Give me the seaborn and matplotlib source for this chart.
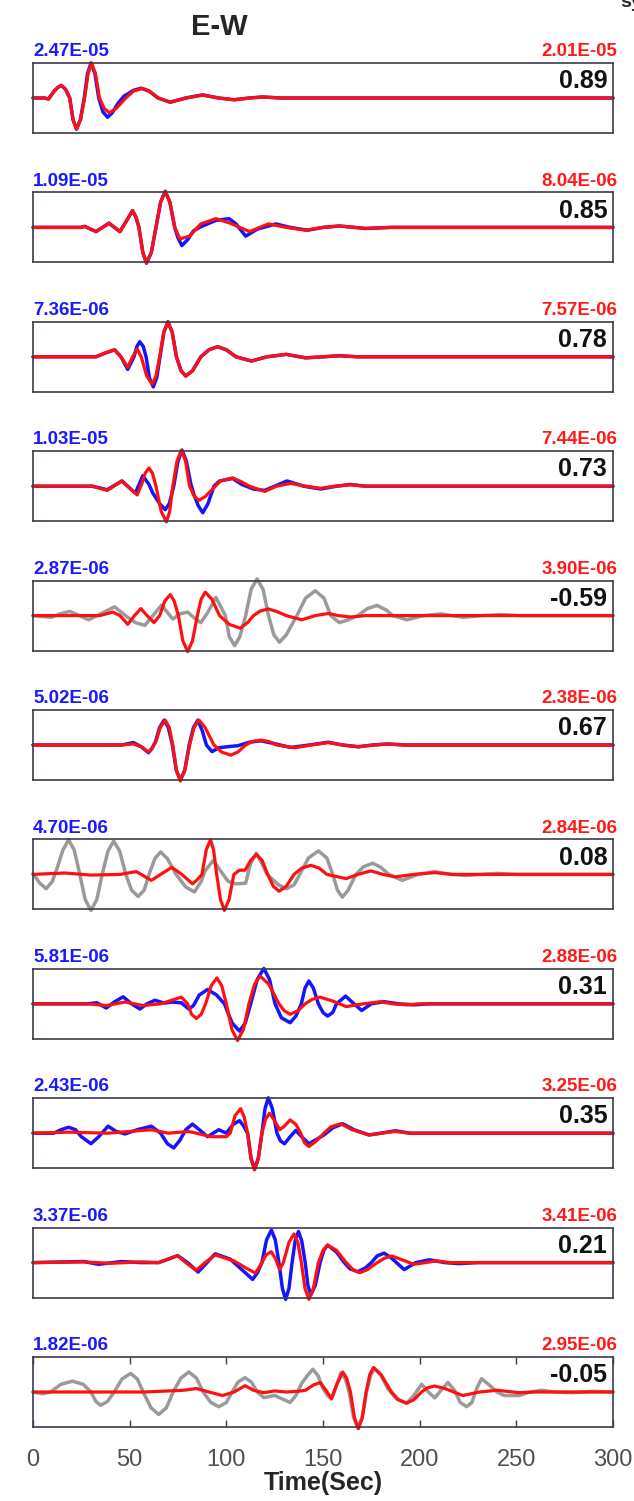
import numpy as np
import pandas as pd
import matplotlib
matplotlib.use("Agg")
import matplotlib.pyplot as plt
import seaborn as sns

# amplitude labels, correlation values, which panels show the observed trace in grey
obs_amp = ["2.47E-05", "1.09E-05", "7.36E-06", "1.03E-05", "2.87E-06", "5.02E-06",
           "4.70E-06", "5.81E-06", "2.43E-06", "3.37E-06", "1.82E-06"]
syn_amp = ["2.01E-05", "8.04E-06", "7.57E-06", "7.44E-06", "3.90E-06", "2.38E-06",
           "2.84E-06", "2.88E-06", "3.25E-06", "3.41E-06", "2.95E-06"]
corr = ["0.89", "0.85", "0.78", "0.73", "-0.59", "0.67", "0.08", "0.31", "0.35", "0.21", "-0.05"]
grey_obs = [False, False, False, False, True, False, True, False, False, False, True]
xticks = [0, 50, 100, 150, 200, 250, 300]

# waveforms: (time s, normalised amplitude)
p1_obs = [(0, 0), (6, 0), (8, -0.03), (11, 0.2), (12.8, 0.3), (14.6, 0.36), (16.8, 0.25), (19, 0),
          (20.7, -0.62), (22.5, -0.89), (24.5, -0.62), (26.5, 0), (28.2, 0.7), (30, 1.0), (32, 0.7),
          (34, 0), (36.2, -0.4), (38.6, -0.55), (41, -0.42), (44, -0.15), (47, 0.05), (52, 0.22),
          (56, 0.28), (60, 0.2), (64.7, 0), (71, -0.12), (79, 0), (87.7, 0.09), (96, 0), (104, -0.05),
          (112, 0), (119, 0.03), (128, 0), (300, 0)]
p1_syn = [(0, 0), (6, 0), (8, -0.03), (11, 0.2), (12.8, 0.3), (14.6, 0.36), (16.8, 0.26), (19, 0),
          (20.7, -0.62), (22.5, -0.89), (24.6, -0.62), (26.7, 0), (28.5, 0.7), (30.3, 1.0), (32.3, 0.7),
          (34.4, 0), (36.8, -0.3), (39.5, -0.42), (43, -0.3), (48, 0), (52, 0.2), (56.4, 0.27),
          (60, 0.2), (64.7, 0), (71, -0.12), (79, 0), (87.7, 0.08), (96, 0), (104, -0.05), (112, 0),
          (119, 0.03), (128, 0), (300, 0)]

p2_obs = [(0, 0), (24.8, 0), (26.7, 0.03), (32.6, -0.12), (39.3, 0.12), (45, -0.12), (48.5, 0.2),
          (51.5, 0.48), (53.2, 0.3), (54.8, 0), (56.8, -0.72), (58.7, -1.02), (61.2, -0.72), (63.6, 0),
          (66, 0.72), (68.4, 1.03), (70.8, 0.72), (73.3, 0), (75, -0.3), (77, -0.52), (80, -0.35),
          (83, -0.1), (86.8, 0.02), (94.6, 0.2), (101.4, 0.25), (105, 0.1), (110, -0.25), (116, -0.05),
          (125.6, 0.1), (133, 0), (142, -0.08), (150, 0), (158.5, 0.04), (172, -0.03), (185, 0), (300, 0)]
p2_syn = [(0, 0), (24.8, 0), (26.7, 0.03), (32.6, -0.12), (39.3, 0.12), (45, -0.12), (48.5, 0.2),
          (51.5, 0.48), (53.2, 0.3), (54.8, 0), (56.8, -0.72), (58.7, -1.02), (61.2, -0.72), (63.6, 0),
          (66, 0.72), (68.4, 1.03), (70.8, 0.72), (73.3, 0), (76, -0.33), (81, -0.25), (86.8, 0.1),
          (94.6, 0.25), (102, 0.12), (112, -0.12), (121.7, 0.1), (131, 0), (141, -0.08), (150, 0),
          (158.5, 0.04), (172, -0.03), (185, 0), (300, 0)]

p3_obs = [(0, 0), (32.6, 0), (37, 0.1), (42.2, 0.2), (45.5, 0), (49, -0.36), (52.2, 0), (53.8, 0.3),
          (55.2, 0.43), (57, 0.3), (58.5, 0), (60.2, -0.6), (62.2, -0.86), (64, -0.6), (65.7, 0),
          (67.7, 0.7), (69.8, 1.0), (72, 0.7), (74.2, 0), (76.6, -0.4), (79, -0.55), (82.5, -0.4),
          (86.8, 0), (91, 0.2), (95.5, 0.29), (100, 0.2), (105, 0), (113, -0.12), (121, 0), (131, 0.07),
          (141, -0.03), (150, 0), (158.5, 0.03), (168, 0), (300, 0)]
p3_syn = [(0, 0), (32.6, 0), (37, 0.1), (42.2, 0.2), (45.5, 0), (49, -0.3), (51.5, 0), (53.9, 0.22),
          (56, 0), (58.8, -0.55), (61.6, -0.78), (63.6, -0.55), (65.5, 0), (67.6, 0.7), (69.8, 1.0),
          (72, 0.7), (74.2, 0), (76.6, -0.4), (79, -0.55), (82.5, -0.4), (86.8, 0), (91, 0.2),
          (95.5, 0.29), (100, 0.2), (105, 0), (113, -0.12), (121, 0), (131, 0.07), (141, -0.03),
          (150, 0), (158.5, 0.03), (168, 0), (300, 0)]

p4_obs = [(0, 0), (30.6, 0), (38.4, -0.1), (46, 0.15), (52.9, -0.2), (56.8, 0.3), (60, 0.05),
          (62, -0.2), (65.5, -0.5), (68.4, -0.67), (70.5, -0.5), (72.8, 0), (75, 0.72), (77.1, 1.03),
          (79.3, 0.72), (81.5, 0.1), (83, -0.2), (85.5, -0.56), (87.8, -0.76), (90.5, -0.5), (93.6, 0),
          (96.5, 0.15), (103.3, 0.22), (108, 0.05), (114, -0.08), (119.8, -0.12), (125, 0),
          (131.4, 0.15), (140, 0), (148.8, -0.08), (157, 0), (164, 0.05), (172, 0), (300, 0)]
p4_syn = [(0, 0), (30.6, 0), (38.4, -0.12), (46, 0.15), (53.9, -0.25), (56.5, 0.1), (58, 0.37),
          (60, 0.52), (61.8, 0.37), (63.6, 0), (66.3, -0.72), (69, -1.02), (70.7, -0.72), (72.3, 0),
          (74.5, 0.72), (76.7, 1.03), (78.9, 0.72), (81, 0), (83.5, -0.3), (85.9, -0.4), (89, -0.3),
          (92.6, -0.1), (97, 0.15), (103.3, 0.24), (108, 0.12), (112, 0), (119.8, -0.15), (126, 0),
          (133.3, 0.08), (141, 0), (148.8, -0.06), (156, 0), (164, 0.04), (172, 0), (300, 0)]

p5_obs = [(0, 0), (9.3, -0.05), (14, 0.05), (19, 0.12), (24, 0), (28.7, -0.12), (35, 0.05),
          (42.2, 0.25), (49, -0.05), (53, -0.2), (57.8, -0.28), (62, 0), (66.5, 0.3), (72.3, -0.1),
          (76, 0.05), (80, 0.1), (83, -0.05), (86.8, -0.2), (90.5, 0.1), (94.6, 0.52), (99.5, 0),
          (101.5, -0.6), (104.3, -0.86), (107, -0.6), (110, 0), (112.8, 0.75), (115.9, 1.05),
          (119, 0.75), (121.8, 0), (124.6, -0.55), (127.5, -0.76), (131, -0.55), (136.5, 0),
          (141, 0.5), (146, 0.71), (150.5, 0.5), (154, 0), (158.5, -0.2), (163, -0.12), (168, 0),
          (173, 0.2), (178, 0.29), (183, 0.15), (186, 0), (193.4, -0.12), (202, 0), (211, 0.05),
          (222.5, -0.05), (232, 0), (242, 0.03), (252, 0), (300, 0)]
p5_syn = [(0, 0), (34.5, 0), (41.3, 0.1), (45, 0), (49, -0.25), (52.5, 0), (55.8, 0.2), (59, 0),
          (62.6, -0.2), (65.5, 0), (68.2, 0.42), (71, 0.6), (73, 0.42), (75.2, 0), (77.5, -0.72),
          (80, -1.03), (82.5, -0.72), (85, 0), (87, 0.47), (89.1, 0.67), (92.5, 0.47), (96.5, 0),
          (101.5, -0.25), (107.2, -0.36), (111, -0.2), (114, 0), (117.5, 0.13), (121.7, 0.19),
          (126, 0.12), (131, 0), (139, -0.12), (146, 0), (152.7, 0.06), (158, 0), (164.3, -0.04),
          (172, 0), (300, 0)]

p6_obs = [(0, 0), (46, 0), (51.9, 0.07), (56, -0.05), (59.7, -0.22), (61.5, -0.1), (63.4, 0.1),
          (65.5, 0.5), (67.8, 0.71), (70, 0.5), (72.1, 0), (74.1, -0.72), (76.2, -1.0), (78.5, -0.72),
          (80.8, 0), (83, 0.5), (85.3, 0.71), (87.6, 0.4), (89.7, 0), (92.6, -0.19), (96, -0.08),
          (100.4, -0.05), (106, -0.02), (112, 0.08), (117.8, 0.12), (124, 0.05), (133.3, -0.07),
          (143, 0), (152.7, 0.08), (160, 0), (168.2, -0.05), (176, 0), (183.7, 0.03), (192, 0), (300, 0)]
p6_syn = [(0, 0), (46, 0), (51.9, 0.03), (56, -0.05), (59.7, -0.2), (61.5, -0.1), (63.6, 0.1),
          (65.8, 0.5), (68.4, 0.71), (70.5, 0.5), (72.3, 0), (74.2, -0.72), (76.2, -1.03), (78.5, -0.72),
          (81, 0), (83.3, 0.5), (85.9, 0.71), (89, 0.5), (93.6, 0), (97.5, -0.2), (102.3, -0.29),
          (106, -0.2), (110, 0), (113.5, 0.1), (117.8, 0.14), (122, 0.1), (126, 0), (135.3, -0.08),
          (144, 0), (152.7, 0.07), (160, 0), (168.2, -0.05), (176, 0), (183.7, 0.03), (192, 0), (300, 0)]

p7_obs = [(0, 0.02), (3.5, -0.25), (6.8, -0.41), (10, -0.2), (12.6, 0.2), (15.5, 0.7), (18.4, 0.99),
          (21.3, 0.7), (24.2, 0), (27, -0.72), (30, -1.03), (33, -0.72), (35.8, 0), (38.8, 0.67),
          (41.7, 0.95), (44.8, 0.67), (48, 0), (51, -0.45), (54.4, -0.63), (57.5, -0.45), (60, 0),
          (63, 0.45), (66, 0.64), (69.5, 0.45), (74, 0), (79, -0.36), (83.5, -0.5), (87, -0.2),
          (89, 0.1), (93.2, 0.4), (97, 0.1), (101, -0.2), (105, -0.27), (110, -0.25), (112.5, 0.3),
          (115.5, 0.61), (118.5, 0.3), (121, 0), (127, -0.3), (131, -0.41), (135, -0.3), (138, 0),
          (142.5, 0.47), (147.6, 0.67), (152, 0.47), (155, 0), (157.5, -0.45), (160, -0.65),
          (163, -0.45), (167, 0), (171, 0.22), (175.7, 0.32), (180, 0.2), (184, 0), (191, -0.17),
          (199, 0), (207.8, 0.08), (216, 0), (224, -0.03), (232, 0), (240, 0.03), (250, 0), (300, 0)]
p7_syn = [(0, 0), (16.5, 0.04), (30, -0.02), (45, 0), (53.4, 0.08), (61.2, -0.17), (66, 0),
          (71.8, 0.2), (77, 0), (82.5, -0.27), (85, -0.15), (87.4, 0), (89.6, 0.7), (91.8, 0.99),
          (93.4, 0.7), (95, 0), (97, -0.72), (99, -1.03), (101.4, -0.72), (103.9, 0), (106.8, 0.12),
          (109.7, 0.12), (112.6, 0.4), (115.5, 0.57), (118.5, 0.4), (121.4, 0), (124.3, -0.34),
          (127.2, -0.48), (131, -0.34), (135, 0), (139, 0.18), (143.7, 0.26), (148, 0.18), (152, 0),
          (162, -0.12), (168, 0), (174.8, 0.1), (181, 0), (187.4, -0.07), (197, 0), (207.8, 0.05),
          (217, 0), (300, 0)]

p8_obs = [(0, 0), (28, 0), (33, 0.03), (37.9, -0.12), (42, 0.05), (46.6, 0.2), (51, 0), (55.3, -0.15),
          (59, 0), (63, 0.1), (68, 0.02), (71.8, 0.05), (76.7, 0.03), (80.6, -0.15), (83, -0.05),
          (86, 0.25), (90.3, 0.41), (95, 0.25), (99, 0), (103, -0.55), (106.8, -0.78), (109.8, -0.55),
          (112.6, 0), (116, 0.7), (119.4, 1.01), (122.3, 0.7), (125.2, 0), (128.5, -0.4), (133, -0.54),
          (136, -0.35), (138.8, 0), (140.7, 0.45), (142.7, 0.65), (145, 0.45), (147.6, 0), (150, -0.25),
          (152.4, -0.35), (155, -0.25), (157, 0), (161.7, 0.22), (166, 0), (170, -0.19), (175, 0),
          (181.6, 0.06), (189, 0), (197, -0.03), (205, 0), (300, 0)]
p8_syn = [(0, 0), (28, 0), (37.9, -0.05), (47.6, 0.05), (57, -0.05), (66, 0), (76.7, 0.19), (80, 0),
          (82, -0.3), (84.5, -0.42), (87, -0.3), (89.3, 0), (92.2, 0.52), (95.1, 0.74), (97.6, 0.52),
          (100, 0), (102.9, -0.74), (105.8, -1.05), (108.8, -0.74), (111.7, 0), (114.6, 0.56),
          (117.5, 0.79), (122, 0.56), (127.2, 0), (130, -0.2), (133, -0.3), (137, -0.2), (140.8, 0),
          (144.5, 0.13), (148.5, 0.19), (155, 0.08), (162, -0.08), (171, 0), (179.6, 0.06), (186, 0),
          (193.2, -0.03), (200, 0), (300, 0)]

p9_obs = [(0, 0), (10.7, 0), (14.5, 0.1), (18.4, 0.17), (22, 0.1), (25, -0.1), (30, -0.3), (34, -0.1),
          (38.8, 0.2), (43, 0.05), (47.6, -0.02), (54, 0.1), (61.2, 0.2), (66, 0), (69.5, -0.3),
          (72.8, -0.42), (76, -0.2), (79, 0.1), (82.5, 0.26), (86, 0.1), (90.3, -0.1), (96.1, 0.1),
          (100, 0), (103.5, 0.25), (106.8, 0.36), (109, 0.2), (111, 0), (112.8, -0.72), (114.6, -1.02),
          (116.5, -0.72), (118.4, 0), (120, 0.7), (121.7, 1.01), (123.8, 0.7), (126.2, 0), (128, -0.22),
          (130.1, -0.3), (133, -0.1), (135.9, 0.08), (139, -0.1), (142.7, -0.3), (146, -0.2),
          (150.5, -0.05), (155, 0.15), (160.2, 0.27), (166, 0.1), (173.8, -0.05), (180, 0),
          (187.4, 0.07), (195, 0), (300, 0)]
p9_syn = [(0, 0), (18.4, 0.03), (38.8, 0), (61.2, 0.1), (70, 0), (80.6, 0.05), (92.2, -0.1), (100, -0.1),
          (102, 0), (104.5, 0.5), (107.4, 0.7), (109.3, 0.45), (111, 0), (112.8, -0.74), (114.6, -1.05),
          (116.5, -0.74), (118.4, 0), (120.3, 0.4), (122.3, 0.57), (124.5, 0.4), (127.6, 0.1),
          (130, 0.2), (133, 0.38), (136, 0.25), (138.5, 0), (140.5, -0.28), (142.7, -0.38), (146, -0.25),
          (150.5, 0), (154, 0.18), (159.2, 0.27), (165, 0.1), (173.8, -0.05), (180, 0), (187.4, 0.05),
          (195, 0), (300, 0)]

p10_obs = [(0, 0), (26.2, 0.03), (34, -0.05), (45.6, 0.03), (56, 0), (65, 0), (70, 0.1), (74.8, 0.2),
           (80, 0), (85.4, -0.27), (90, 0), (94.2, 0.25), (102, 0.1), (107, -0.15), (113.6, -0.48),
           (116, -0.3), (118.4, 0), (120.8, 0.65), (123.3, 0.93), (125.3, 0.65), (127.2, 0),
           (129, -0.74), (130.7, -1.05), (132.4, -0.74), (134, 0), (135.6, 0.62), (137.3, 0.89),
           (139, 0.62), (140.8, 0), (142.2, -0.65), (143.7, -0.92), (146, -0.65), (148.5, 0),
           (150.4, 0.35), (152.4, 0.5), (157, 0.3), (161, 0), (164, -0.18), (168, -0.26), (172, -0.15),
           (175, 0), (178, 0.19), (181.6, 0.27), (185, 0.15), (188, 0), (192, -0.2), (198, 0),
           (205, 0.08), (213, 0), (220.4, -0.03), (230, 0), (300, 0)]
p10_syn = [(0, 0), (26, 0.02), (40, -0.02), (56, 0.02), (65, 0), (70, 0.1), (74.8, 0.2), (79, 0),
           (84.4, -0.22), (89, 0), (94.2, 0.22), (103.9, 0.05), (110, -0.15), (115.1, -0.3), (118.4, 0),
           (120.5, 0.22), (123.3, 0.31), (125.5, 0.1), (127.6, -0.2), (129.5, 0), (132.4, 0.58),
           (135, 0.82), (137, 0.58), (138.8, 0), (140.7, -0.74), (142.7, -1.05), (145, -0.74),
           (147.6, 0), (150, 0.35), (152.4, 0.5), (157, 0.35), (162, 0), (165.5, -0.2), (169, -0.29),
           (173, -0.2), (178, 0), (182, 0.13), (185.4, 0.19), (190, 0.1), (197, -0.05), (203, 0),
           (208.7, 0.05), (216, 0), (300, 0)]

p11_obs = [(0, 0), (4.9, -0.05), (9, 0), (14.5, 0.22), (20.4, 0.31), (26, 0.22), (30, 0), (32.5, -0.27),
           (35, -0.38), (38.5, -0.27), (42, 0), (46, 0.37), (50.5, 0.53), (54, 0.37), (57, 0),
           (61, -0.45), (65, -0.64), (69, -0.45), (72.5, 0), (76.5, 0.4), (80.6, 0.57), (84.5, 0.4),
           (88, 0), (92, -0.3), (96.1, -0.42), (100, -0.3), (103, 0), (106, 0.28), (109.7, 0.41),
           (113, 0.28), (116, 0), (119.4, -0.16), (125, -0.1), (133, -0.3), (136, -0.1), (139, 0.25),
           (141.8, 0.46), (144.7, 0.65), (147.5, 0.46), (150, 0.1), (152.4, -0.1), (154.4, -0.2),
           (156.5, 0.1), (159.2, 0.55), (161.5, 0.38), (163.5, 0), (165.8, -0.72), (168, -1.02),
           (170.3, -0.72), (172.5, 0), (174.6, 0.47), (176.7, 0.67), (180, 0.47), (183.5, 0.1),
           (188, -0.2), (193.2, -0.32), (197, -0.1), (201, 0.22), (204.5, 0), (207.8, -0.17),
           (211, 0.05), (214.6, 0.27), (218, 0.05), (221, -0.3), (224.3, -0.42), (227, -0.3),
           (229.5, 0.1), (232, 0.38), (236, 0.2), (240, 0), (243.7, -0.1), (251.5, -0.1), (257, 0),
           (263.1, 0.05), (270, 0), (278.6, -0.02), (290, 0.02), (300, 0)]
p11_syn = [(0, 0), (57.3, 0), (70, 0.03), (78, 0.05), (84.5, 0.1), (91, 0), (98, -0.1), (104, 0),
           (109.7, 0.18), (114, 0.05), (119.4, -0.02), (125, 0.03), (131, 0), (137, 0.02), (141, 0.05),
           (145, 0.2), (148.5, 0.27), (151.5, 0.05), (154.4, -0.19), (157, 0.2), (160.2, 0.57),
           (162.2, 0.4), (164.2, 0), (166.3, -0.74), (168.3, -1.05), (170.3, -0.74), (172.3, 0),
           (174.2, 0.5), (176.1, 0.7), (180, 0.5), (185.4, 0), (189, -0.22), (193.2, -0.32),
           (197, -0.22), (201, 0), (204, 0.12), (207.8, 0.17), (213, 0.1), (222.3, -0.1), (231, 0),
           (240, 0.05), (251.5, -0.02), (260, 0), (300, 0)]

obs_traces = [p1_obs, p2_obs, p3_obs, p4_obs, p5_obs, p6_obs, p7_obs, p8_obs, p9_obs, p10_obs, p11_obs]
syn_traces = [p1_syn, p2_syn, p3_syn, p4_syn, p5_syn, p6_syn, p7_syn, p8_syn, p9_syn, p10_syn, p11_syn]

sns.set_style("white")
plt.rcParams['font.family'] = ['Liberation Sans', 'DejaVu Sans']

W, H = 634, 1501
fig = plt.figure(figsize=(W / 100, H / 100), dpi=100)

box_left, box_w, box_h = 33, 580, 70
top0, step = 63, 129.4
frame_col = "#3c3c4c"

for i in range(len(corr)):
    top = top0 + step * i
    ax = fig.add_axes([box_left / W, 1 - (top + box_h) / H, box_w / W, box_h / H])
    obs = pd.DataFrame(obs_traces[i], columns=["t", "amp"])
    syn = pd.DataFrame(syn_traces[i], columns=["t", "amp"])
    obs_col = "#9a9a9a" if grey_obs[i] else "#1414ff"
    sns.lineplot(data=obs, x="t", y="amp", ax=ax, color=obs_col, lw=2.5,
                 estimator=None, sort=False, clip_on=False, solid_joinstyle="round")
    sns.lineplot(data=syn, x="t", y="amp", ax=ax, color="#ff1010", lw=2.3,
                 estimator=None, sort=False, clip_on=False, solid_joinstyle="round")
    ax.set_xlim(0, 300)
    ax.set_ylim(-1.0, 1.0)
    ax.set_xlabel("")
    ax.set_ylabel("")
    ax.set_yticks([])
    for s in ax.spines.values():
        s.set_color(frame_col)
        s.set_linewidth(1.2)
    ax.text(0.0, 1.04, obs_amp[i], transform=ax.transAxes, ha="left", va="bottom",
            color="#1a1aff", fontsize=13.5, fontweight="bold")
    ax.text(1.007, 1.04, syn_amp[i], transform=ax.transAxes, ha="right", va="bottom",
            color="#ff1a1a", fontsize=13.5, fontweight="bold")
    ax.text(0.99, 0.74, corr[i], transform=ax.transAxes, ha="right", va="center",
            color="#111111", fontsize=18, fontweight="bold")
    if i == len(corr) - 1:
        ax.set_xticks(xticks)
        ax.tick_params(axis="x", direction="in", length=5, width=1, color=frame_col,
                       top=True, bottom=True, labelsize=17, labelcolor="#505050", pad=16)
        ax.set_xlabel("Time(Sec)", fontsize=18, fontweight="bold", labelpad=0)
    else:
        ax.set_xticks([])

fig.text(219 / W, 1 - 27 / H, "E-W", ha="center", va="center", fontsize=21, fontweight="bold")
fig.text(620 / W, 1 - 7 / H, "syn", ha="left", va="baseline", fontsize=14, fontweight="bold")

fig.savefig("out.png", dpi=100)
